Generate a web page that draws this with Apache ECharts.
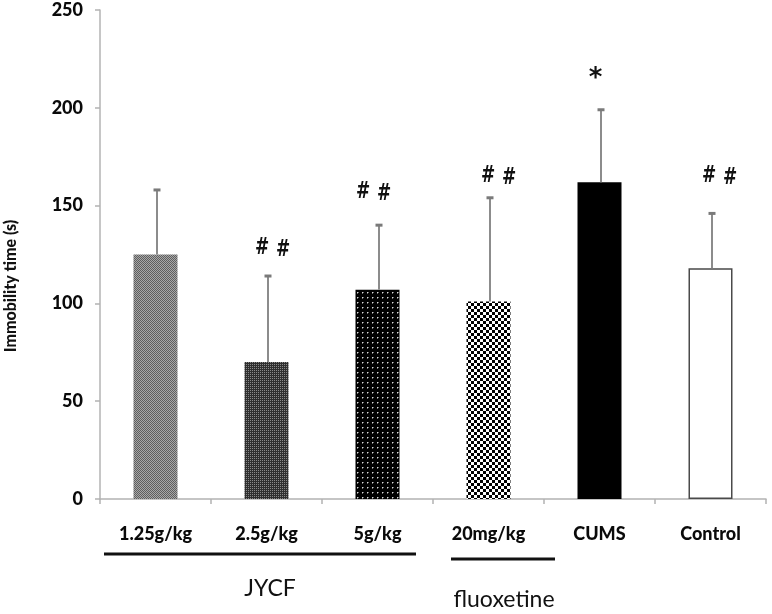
<!DOCTYPE html>
<html>
<head>
<meta charset="utf-8">
<script src="https://cdn.jsdelivr.net/npm/echarts@6/dist/echarts.min.js"></script>
<style>
html,body{margin:0;padding:0;background:#fff;}
#chart{width:772px;height:614px;}
</style>
</head>
<body>
<div id="chart"></div>
<script>
// ---- data ----
const categories = ['1.25g/kg', '2.5g/kg', '5g/kg', '20mg/kg', 'CUMS', 'Control'];
const means = [125, 70, 107, 101, 162, 118];
const sds = [33, 44, 33, 53, 37, 28];
const marks = ['', '#', '#', '#', '*', '#'];
const markY = [0, 127.5, 156.5, 164.5, 216, 164.5];
const yTicks = [0, 50, 100, 150, 200, 250];
const yName = 'Immobility time (s)';
const groups = ['JYCF', 'fluoxetine'];

// ---- fill patterns ----
function tile(w, h, draw) {
  const c = document.createElement('canvas');
  c.width = w; c.height = h;
  const ctx = c.getContext('2d');
  draw(ctx);
  return { image: c, repeat: 'repeat' };
}
const fills = [
  tile(2, 2, ctx => { ctx.fillStyle = '#a8a8a8'; ctx.fillRect(0,0,2,2); ctx.fillStyle = '#5e5e5e'; ctx.fillRect(0,0,1,1); ctx.fillRect(1,1,1,1); }),
  tile(2, 2, ctx => { ctx.fillStyle = '#2f2f2f'; ctx.fillRect(0,0,2,2); ctx.fillStyle = '#8a8a8a'; ctx.fillRect(0,0,1,1); }),
  tile(5, 5, ctx => { ctx.fillStyle = '#000'; ctx.fillRect(0,0,5,5); ctx.fillStyle = '#d8d8d8'; ctx.fillRect(2,2,1,1); ctx.fillStyle = '#6a6a6a'; ctx.fillRect(3,2,1,1); ctx.fillRect(2,3,1,1); }),
  tile(6, 6, ctx => { ctx.fillStyle = '#fff'; ctx.fillRect(0,0,6,6); ctx.fillStyle = '#000'; ctx.fillRect(0,0,3,3); ctx.fillRect(3,3,3,3); }),
  '#000000',
  '#ffffff'
];

const chart = echarts.init(document.getElementById('chart'));
const FONT = 'Lato, "Open Sans", sans-serif';

const option = {
  backgroundColor: '#ffffff',
  animation: false,
  grid: { left: 100, right: 6, top: 10, bottom: 115 },
  xAxis: {
    type: 'category',
    data: categories,
    axisLine: { lineStyle: { color: '#b3b3b3', width: 1.5 } },
    axisTick: { show: true, length: 5, lineStyle: { color: '#b3b3b3', width: 1.5 } },
    axisLabel: { margin: 25, color: '#0a0a0a', fontSize: 18, fontWeight: 900, fontFamily: FONT, lineHeight: 20 }
  },
  yAxis: {
    type: 'value',
    min: 0, max: 250, interval: 50,
    splitLine: { show: false },
    axisLine: { show: true, lineStyle: { color: '#b3b3b3', width: 1.5 } },
    axisTick: { show: true, length: 5, lineStyle: { color: '#b3b3b3', width: 1.5 } },
    axisLabel: { margin: 17, color: '#0a0a0a', fontSize: 18, fontWeight: 900, fontFamily: FONT,
      formatter: v => yTicks.includes(v) ? String(v) : '' }
  },
  series: [
    {
      type: 'bar',
      barWidth: 44,
      data: means.map((v, i) => ({
        value: v,
        itemStyle: {
          color: fills[i],
          borderColor: i === 5 ? '#4a4a4a' : (i === 4 ? '#000' : 'transparent'),
          borderWidth: i === 5 ? 1.5 : 0
        }
      })),
      z: 2
    },
    {
      type: 'custom',
      z: 3,
      data: means.map((v, i) => [i, v, v + sds[i]]),
      renderItem: (params, api) => {
        const base = api.coord([api.value(0), api.value(1)]);
        const top = api.coord([api.value(0), api.value(2)]);
        const x = Math.round(base[0]) + 1;
        return {
          type: 'group',
          children: [
            { type: 'line', shape: { x1: x, y1: base[1], x2: x, y2: top[1] },
              style: { stroke: '#8c8c8c', lineWidth: 2 } },
            { type: 'rect', shape: { x: x - 3.5, y: top[1] - 1.5, width: 7, height: 3 },
              style: { fill: '#7a7a7a' } }
          ]
        };
      }
    },
    {
      type: 'custom',
      z: 4,
      data: markY.map((v, i) => [i, v]),
      renderItem: (params, api) => {
        const i = params.dataIndex;
        const m = marks[i];
        if (!m) return null;
        const p = api.coord([api.value(0), api.value(1)]);
        const st = { fill: '#111', fontFamily: 'DejaVu Sans, sans-serif', fontWeight: 'bold', align: 'center', verticalAlign: 'middle' };
        if (m === '*') {
          return { type: 'text', x: p[0] - 4, y: p[1] + 3, style: Object.assign({ text: '*', fontSize: 26 }, st) };
        }
        const off = [6, -4, 10, 9][[1, 2, 3, 5].indexOf(i)];
        return {
          type: 'group',
          children: [
            { type: 'text', x: p[0] + off - 10.5, y: p[1] - 1, style: Object.assign({ text: '#', fontSize: 17 }, st), scaleY: 1.3 },
            { type: 'text', x: p[0] + off + 10.5, y: p[1] + 1, style: Object.assign({ text: '#', fontSize: 17 }, st), scaleY: 1.3 }
          ]
        };
      }
    }
  ],
  graphic: [
    {
      type: 'text', x: 11, y: 286, rotation: Math.PI / 2,
      style: { text: yName, fontSize: 16, fontWeight: 900, fontFamily: FONT, fill: '#111', align: 'center', verticalAlign: 'middle' }
    },
    { type: 'line', shape: { x1: 104, y1: 554, x2: 416, y2: 554 }, style: { stroke: '#111', lineWidth: 3 } },
    { type: 'line', shape: { x1: 451, y1: 559, x2: 555, y2: 559 }, style: { stroke: '#111', lineWidth: 3 } },
    { type: 'text', x: 270, y: 589, style: { text: groups[0], fontSize: 23, fontFamily: FONT, fill: '#111', align: 'center', verticalAlign: 'middle' } },
    { type: 'text', x: 504, y: 600, style: { text: groups[1], fontSize: 23, fontFamily: FONT, fill: '#111', align: 'center', verticalAlign: 'middle' } }
  ]
};
chart.setOption(option);
</script>
</body>
</html>
